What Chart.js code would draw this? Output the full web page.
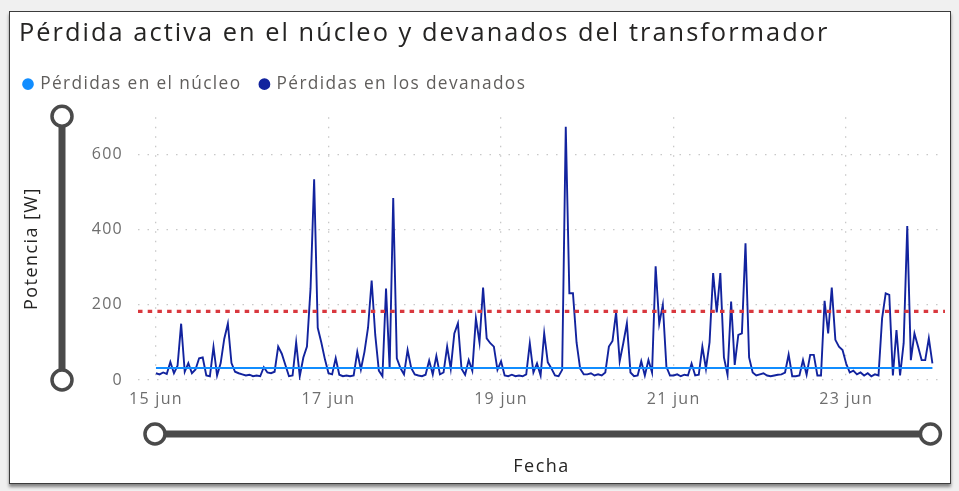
<!DOCTYPE html>
<html><head><meta charset="utf-8">
<script src="https://cdn.jsdelivr.net/npm/chart.js@4.4.1/dist/chart.umd.min.js"></script>
<style>
html,body{margin:0;padding:0;background:#f0f0f0;width:959px;height:491px;overflow:hidden}
#frame{position:absolute;left:9px;top:11px;width:940px;height:471px;background:#fff;border:1.5px solid #3c3c3c;box-shadow:0 3px 3px rgba(0,0,0,.45)}
#wrap{position:absolute;left:0;top:0;width:959px;height:491px}
</style></head><body>
<div id="frame"></div>
<div id="wrap"><canvas id="c"></canvas></div>
<script>
const chartTitle = 'Pérdida activa en el núcleo y devanados del transformador';
const seriesNames = ['Pérdidas en el núcleo', 'Pérdidas en los devanados'];
const yAxisTitle = 'Potencia [W]';
const xAxisTitle = 'Fecha';
// x values are hours since 15 jun 00:00
const tickHours = [0, 48, 96, 144, 192];
const tickLabels = ['15 jun', '17 jun', '19 jun', '21 jun', '23 jun'];
const yTicks = [0, 200, 400, 600];
const xRange = [-5, 219.5];
const yRange = [0, 700];

// hourly winding losses [W], one array per day
const jun15 = [18,15,20,16,48,18,38,150,22,45,18,28,58,60,12,10,88,12,45,110,150,45,22,18];
const jun16 = [15,12,14,10,12,10,34,20,18,22,89,70,40,10,12,100,10,60,89,244,535,139,100,55];
const jun17 = [18,15,58,14,10,12,10,12,75,28,75,140,265,120,25,10,244,30,485,58,32,15,80,32];
const jun18 = [15,12,10,14,52,15,64,15,20,89,30,124,151,30,14,53,25,164,100,246,111,98,89,27];
const jun19 = [50,12,10,14,10,12,10,15,98,20,44,12,124,47,31,12,10,27,675,231,231,100,30,15];
const jun20 = [15,18,12,15,12,20,89,104,180,50,98,151,20,10,12,50,12,53,20,303,150,200,35,12];
const jun21 = [12,15,10,14,12,44,12,14,89,30,100,285,180,285,60,14,209,40,120,124,364,60,20,12];
const jun22 = [15,18,12,10,12,14,15,20,68,10,10,12,53,14,67,67,12,12,211,124,246,107,89,80];
const jun23 = [44,20,25,15,20,12,18,10,15,12,164,231,227,12,133,12,98,410,53,124,89,53,53,111,44];

// core losses [W], read at each day boundary
const coreHours = [0, 24, 48, 72, 96, 120, 144, 168, 192, 216];
const coreLoss = [32, 32, 32, 32, 32, 32, 32, 32, 32, 32];

const thresholdW = 183;

const windingLoss = [].concat(jun15, jun16, jun17, jun18, jun19, jun20, jun21, jun22, jun23);

const FONT = "'Segoe UI', 'Open Sans', sans-serif";
Chart.defaults.font.family = FONT;

// wider letter spacing, proportional to the font size (to mimic the original typeface)
(function () {
  const LS_EM = 0.08;
  const proto = CanvasRenderingContext2D.prototype;
  if (!('letterSpacing' in proto)) return;
  const fill = proto.fillText, measure = proto.measureText;
  const apply = ctx => {
    const m = /(\d+(?:\.\d+)?)px/.exec(ctx.font);
    ctx.letterSpacing = (m ? (parseFloat(m[1]) * LS_EM).toFixed(2) : 0) + 'px';
  };
  proto.fillText = function () { apply(this); return fill.apply(this, arguments); };
  proto.measureText = function () { apply(this); return measure.apply(this, arguments); };
})();

const sliderPlugin = {
  id: 'sliders',
  afterDraw(chart) {
    const {ctx, chartArea, scales} = chart;
    const xs = scales.x, ys = scales.y;
    ctx.save();
    ctx.strokeStyle = '#4a4a4a';
    ctx.lineWidth = 7;
    const vx = 62, vTop = chartArea.top - 1, vBot = ys.getPixelForValue(0);
    const hy = 434, hL = xs.getPixelForValue(coreHours[0]) - 1, hR = xs.getPixelForValue(coreHours[coreHours.length - 1]) - 2;
    ctx.beginPath(); ctx.moveTo(vx, vTop); ctx.lineTo(vx, vBot); ctx.stroke();
    ctx.beginPath(); ctx.moveTo(hL, hy); ctx.lineTo(hR, hy); ctx.stroke();
    ctx.fillStyle = '#ffffff';
    ctx.lineWidth = 3.5;
    [[vx, vTop], [vx, vBot], [hL, hy], [hR, hy]].forEach(([cx, cy]) => {
      ctx.beginPath(); ctx.arc(cx, cy, 10, 0, Math.PI * 2); ctx.fill(); ctx.stroke();
    });
    ctx.restore();
  }
};
const legendLayout = {
  id: 'legendLayout',
  beforeLayout(chart) {
    const lg = chart.legend;
    if (lg && !lg._gapWrapped) {
      const fit = lg.fit.bind(lg);
      lg.fit = function () { fit(); this.height += 14.5; };
      lg._gapWrapped = true;
    }
  },
  afterLayout(chart) {
    if (chart.legend) { chart.legend.left -= 14; chart.legend.right -= 14; }
  }
};

new Chart(document.getElementById('c'), {
  type: 'line',
  data: {
    datasets: [
      {
        label: seriesNames[0],
        data: coreHours.map((h, i) => ({x: h, y: coreLoss[i]})),
        borderColor: '#118DFF', backgroundColor: '#118DFF',
        borderWidth: 1.8, pointRadius: 0, order: 0
      },
      {
        label: seriesNames[1],
        data: windingLoss.map((v, i) => ({x: i, y: v})),
        borderColor: '#12239E', backgroundColor: '#12239E',
        borderWidth: 1.9, pointRadius: 0, order: 1
      },
      {
        label: 'Umbral',
        data: [{x: xRange[0], y: thresholdW}, {x: xRange[1], y: thresholdW}],
        borderColor: '#D9383E', backgroundColor: '#D9383E',
        borderWidth: 3.3, borderDash: [4.5, 5.2], pointRadius: 0, order: -1
      }
    ]
  },
  options: {
    responsive: true, maintainAspectRatio: false, animation: false,
    devicePixelRatio: 1,
    layout: {padding: {left: 19, right: 14, top: 0, bottom: 0}},
    plugins: {
      tooltip: {enabled: false},
      title: {
        display: true, text: chartTitle, align: 'start', color: '#252423',
        font: {size: 25.4, weight: 'normal', family: FONT},
        padding: {top: 18.8, bottom: 6.7}
      },
      legend: {
        display: true, align: 'start', position: 'top',
        labels: {
          usePointStyle: true, pointStyle: 'circle', boxWidth: 7, boxHeight: 7,
          padding: 19.5, color: '#605E5C', font: {size: 17.3, family: FONT},
          filter: item => item.datasetIndex < 2
        }
      }
    },
    scales: {
      x: {
        type: 'linear', min: xRange[0], max: xRange[1],
        afterBuildTicks: s => { s.ticks = tickHours.map(v => ({value: v})); },
        afterFit: s => { s.height = 111; },
        ticks: {
          callback: v => tickLabels[tickHours.indexOf(v)],
          color: '#6e6e6e', font: {size: 16}, padding: 10, maxRotation: 0, autoSkip: false
        },
        grid: {color: '#c8c8c8', lineWidth: 1.3, drawTicks: false, borderDash: [1.5, 8]},
        border: {display: false, dash: [1.5, 8]},
        title: {display: true, text: xAxisTitle, color: '#252423', font: {size: 18}, padding: {top: 0, bottom: 13}}
      },
      y: {
        type: 'linear', min: yRange[0], max: yRange[1],
        afterBuildTicks: s => { s.ticks = yTicks.map(v => ({value: v})); },
        afterFit: s => { s.width = 119; },
        ticks: {color: '#6e6e6e', font: {size: 16}, padding: 15},
        grid: {color: '#c8c8c8', lineWidth: 1.3, drawTicks: false, borderDash: [1.5, 8]},
        border: {display: false, dash: [1.5, 8]},
        title: {display: true, text: yAxisTitle, color: '#252423', font: {size: 18}, padding: {top: 2, bottom: 0}}
      }
    }
  },
  plugins: [sliderPlugin, legendLayout]
});
</script>
</body></html>
